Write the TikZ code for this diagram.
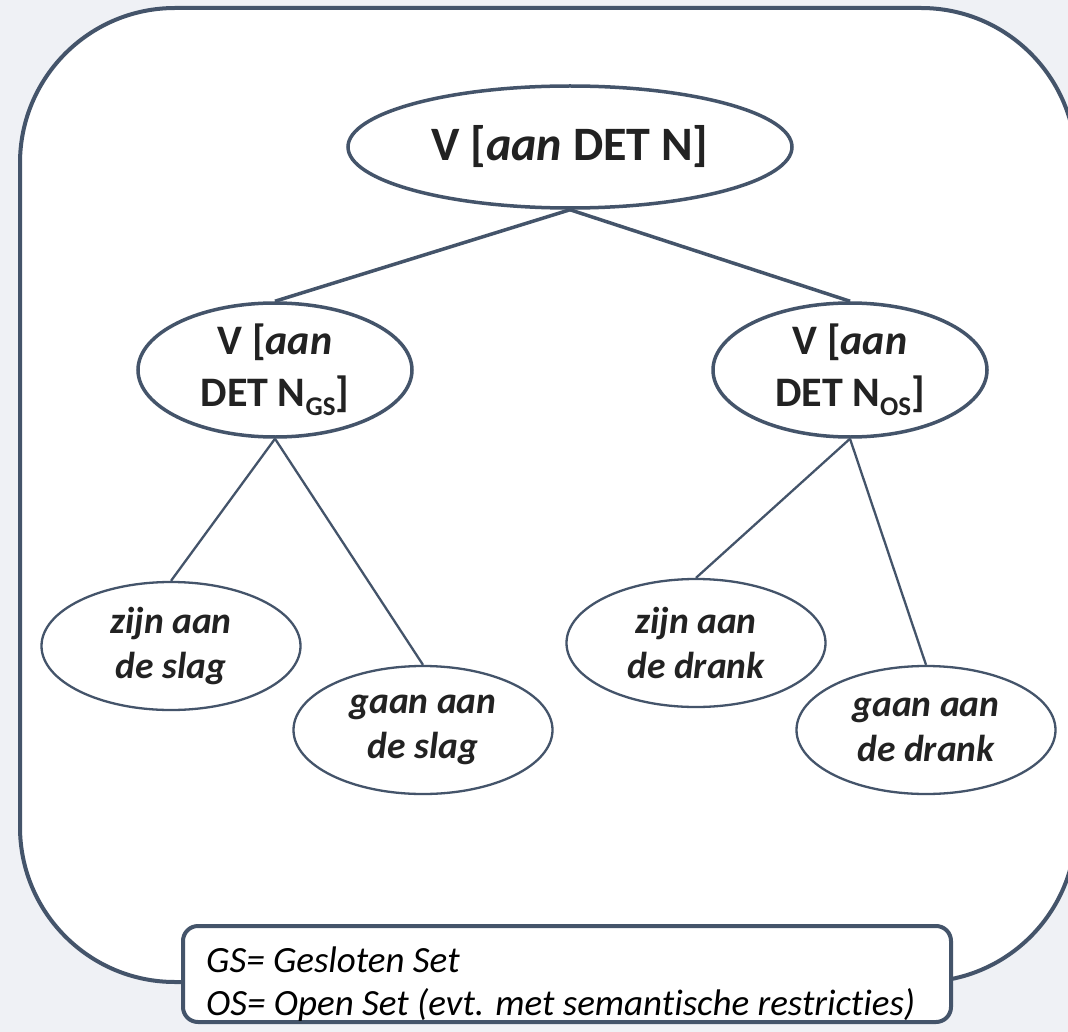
\documentclass[tikz,border=0pt]{standalone}
\usepackage{fontspec}
\setmainfont{Carlito}[Ligatures=CommonOff]
\usetikzlibrary{shapes.geometric}
\definecolor{bgcol}{HTML}{EFF1F5}
\definecolor{slate}{HTML}{44546A}
\definecolor{ink}{HTML}{222222}
\tikzset{
  topell/.style={ellipse, draw=slate, line width=3.5pt, fill=white, inner sep=0pt,
    text=ink, align=center, font=\fontsize{48}{58}\selectfont\bfseries},
  midell/.style={ellipse, draw=slate, line width=3.5pt, fill=white, inner sep=0pt,
    minimum width=274pt, minimum height=134pt,
    text=ink, align=center, font=\fontsize{42}{52}\selectfont\bfseries},
  leafell/.style={ellipse, draw=slate, line width=2.3pt, fill=white, inner sep=0pt,
    minimum width=259pt, minimum height=128pt,
    text=ink, align=center, font=\fontsize{37.5}{45}\selectfont\bfseries\itshape},
  thick link/.style={draw=slate, line width=3.5pt},
  thin link/.style={draw=slate, line width=2.3pt},
}
\newcommand{\sbs}[1]{\raisebox{-0.22em}{\fontsize{27}{27}\selectfont #1}}
\begin{document}
\begin{tikzpicture}[x=1pt,y=-1pt]
  \useasboundingbox (0,0) rectangle (1068,1032);
  \fill[bgcol] (0,0) rectangle (1068,1032);
  \begin{scope}
    \clip (0,0) rectangle (1068,1032);
    \draw[slate, line width=4pt, fill=white, rounded corners=155pt]
      (20,8) rectangle (1076,982);
  \end{scope}

  \node[topell, minimum width=444pt, minimum height=122pt] (top) at (570,147)
    {\raisebox{3pt}{V [\textit{aan} DET N]}};
  \node[midell] (ml) at (275,370) {V [\textit{aan}\\DET N\sbs{GS}]};
  \node[midell] (mr) at (850,370) {V [\textit{aan}\\DET N\sbs{OS}]};

  \node[leafell] (l1) at (171,646) {zijn aan\\de slag};
  \node[leafell] (l2) at (423,730) {gaan aan\\de slag};
  \node[leafell] (l3) at (696,643) {zijn aan\\de drank};
  \node[leafell] (l4) at (926,730) {gaan aan\\de drank};

  \draw[thick link] (top.south) -- (ml.north);
  \draw[thick link] (top.south) -- (mr.north);
  \draw[thin link] (ml.south) -- (l1.north);
  \draw[thin link] (ml.south) -- (l2.north);
  \draw[thin link] (mr.south) -- (l3.north);
  \draw[thin link] (mr.south) -- (l4.north);

  \node[draw=slate, line width=4pt, fill=white, rounded corners=15pt,
        minimum width=768pt, minimum height=96pt, inner sep=0pt] (legend) at (567,974) {};
  \node[anchor=base west, text=black, align=left, inner sep=0pt,
        font=\fontsize{37}{43}\selectfont\itshape] (legtext) at (206,1015)
    {GS= Gesloten Set\\OS= Open Set (evt. met semantische restricties)};
\end{tikzpicture}
\end{document}
